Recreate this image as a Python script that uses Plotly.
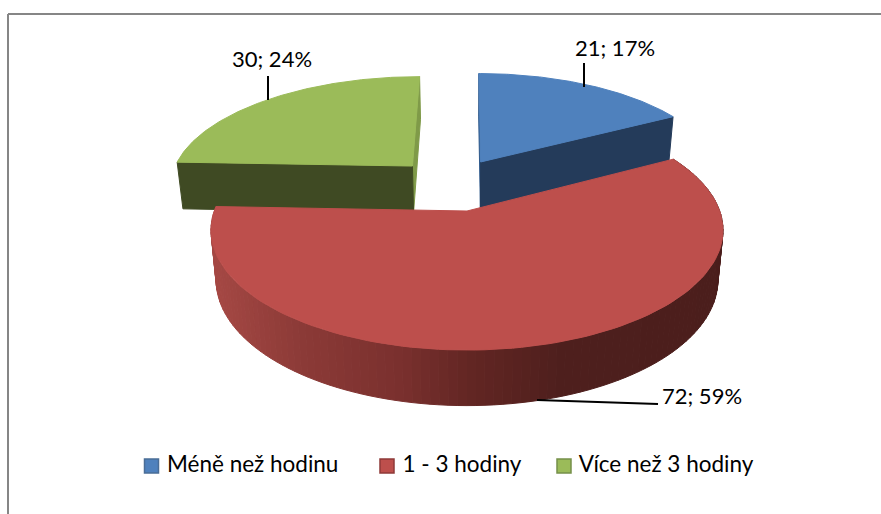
import numpy as np
import plotly.graph_objects as go

categories = ["Méně než hodinu", "1 - 3 hodiny", "Více než 3 hodiny"]
values = [21, 72, 30]
percent_labels = ["17%", "59%", "24%"]

top_colors = ["#4f81bd", "#bd4f4c", "#9bbb59"]
wall_colors = ["#243b5a", "#8f3a38", "#3f4a23"]
strip_colors = ["#2f5a8c", "#8f3a38", "#7f9a48"]
legend_edges = ["#4a6d96", "#8f3a38", "#76904a"]

# perspective model of the Excel 3D pie, all in screen pixels
CX, CY = 467, 211
RX, RY = 252.7, 116.8
PERSP = 0.16
DEPTH = 49
SHRINK = 0.98
# explosion offsets in disc coordinates
offsets = [(0.058, 0.45), (0.0, 0.0), (-0.23, 0.41)]


def project(u, v, low=False):
    s = 1 / (1 + PERSP * v)
    x = RX * u * s
    y = -RY * v * s
    if low:
        return CX + x * SHRINK, CY + y * SHRINK + DEPTH * s
    return CX + x, CY + y


def disc_point(angle, radius, off):
    a = np.radians(angle)
    return off[0] + radius * np.sin(a), off[1] + radius * np.cos(a)


def poly(fig, xs, ys, color):
    fig.add_trace(go.Scatter(
        x=list(xs) + [xs[0]], y=list(ys) + [ys[0]], mode="lines", fill="toself",
        fillcolor=color, line=dict(color=color, width=1),
        hoverinfo="skip", showlegend=False,
    ))


def red_side_color(x):
    # gradient of the curved wall, left to right
    stops_x = [215, 300, 400, 470, 560, 722]
    stops_r = [165, 140, 122, 98, 78, 75]
    stops_g = [72, 58, 48, 38, 31, 30]
    stops_b = [68, 55, 46, 35, 29, 28]
    r = np.interp(x, stops_x, stops_r)
    g = np.interp(x, stops_x, stops_g)
    b = np.interp(x, stops_x, stops_b)
    return f"rgb({r:.0f},{g:.0f},{b:.0f})"


fig = go.Figure()

total = sum(values)
starts = np.cumsum([0] + values[:-1]) / total * 360
sweeps = np.array(values) / total * 360


def draw_slice(i):
    off = offsets[i]
    a0, a1 = starts[i], starts[i] + sweeps[i]
    arc = np.linspace(a0, a1, 120)
    uv = [disc_point(a, 1, off) for a in arc]
    top = [project(u, v) for u, v in uv]
    low = [project(u, v, True) for u, v in uv]
    apex_top = project(off[0], off[1])
    apex_low = project(off[0], off[1], True)

    # cut walls: the thin strip first, then the big dark one
    if i == 0:
        walls = [(0, strip_colors[i]), (-1, wall_colors[i])]
    elif i == 2:
        walls = [(-1, strip_colors[i]), (0, wall_colors[i])]
    else:
        walls = []
    for k, col in walls:
        xs = [top[k][0], low[k][0], apex_low[0], apex_top[0]]
        ys = [top[k][1], low[k][1], apex_low[1], apex_top[1]]
        poly(fig, xs, ys, col)

    # curved wall, only the red slice shows it
    if i == 1:
        for j in range(len(arc) - 1):
            xs = [top[j][0], top[j + 1][0], low[j + 1][0], low[j][0]]
            ys = [top[j][1], top[j + 1][1], low[j + 1][1], low[j][1]]
            poly(fig, xs, ys, red_side_color(np.mean(xs)))

    xs = [apex_top[0]] + [p[0] for p in top]
    ys = [apex_top[1]] + [p[1] for p in top]
    poly(fig, xs, ys, top_colors[i])


for i in [0, 2, 1]:
    draw_slice(i)

# leader lines
leaders = [([584, 584], [63, 87]), ([537, 658], [400, 404]), ([268, 268], [76, 100])]
for lx, ly in leaders:
    fig.add_trace(go.Scatter(x=lx, y=ly, mode="lines", line=dict(color="#000000", width=2),
                             hoverinfo="skip", showlegend=False))

# data labels
label_x = [615, 702, 272]
label_y = [50, 398, 61]
fig.add_trace(go.Scatter(
    x=label_x, y=label_y, mode="text",
    text=[f"{v}; {p}" for v, p in zip(values, percent_labels)],
    textposition="middle center",
    textfont=dict(family="Lato", size=22, color="#000000"),
    hoverinfo="skip", showlegend=False,
))

# legend row
legend_x = [151.5, 387, 564]
for cat, col, edge, lx in zip(categories, top_colors, legend_edges, legend_x):
    fig.add_trace(go.Scatter(
        x=[lx], y=[466], mode="markers+text", text=[" " + cat], textposition="middle right",
        textfont=dict(family="Lato", size=22.5, color="#000000"),
        marker=dict(symbol="square", size=14, color=col, line=dict(color=edge, width=1.5)),
        hoverinfo="skip", showlegend=False, cliponaxis=False,
    ))

# chart frame, only top and left are inside the crop
fig.add_shape(type="line", x0=8, x1=881, y0=14, y1=14, line=dict(color="#868686", width=2))
fig.add_shape(type="line", x0=8, x1=8, y0=14, y1=514, line=dict(color="#868686", width=2))

fig.update_layout(
    width=881, height=514,
    margin=dict(l=0, r=0, t=0, b=0),
    paper_bgcolor="white", plot_bgcolor="white",
    xaxis=dict(range=[0, 881], visible=False, fixedrange=True),
    yaxis=dict(range=[514, 0], visible=False, fixedrange=True),
    showlegend=False,
)

fig.write_html(
    "out.html",
    config={"displayModeBar": False},
    post_script="document.body.style.margin='0';document.body.style.overflow='hidden';",
)
